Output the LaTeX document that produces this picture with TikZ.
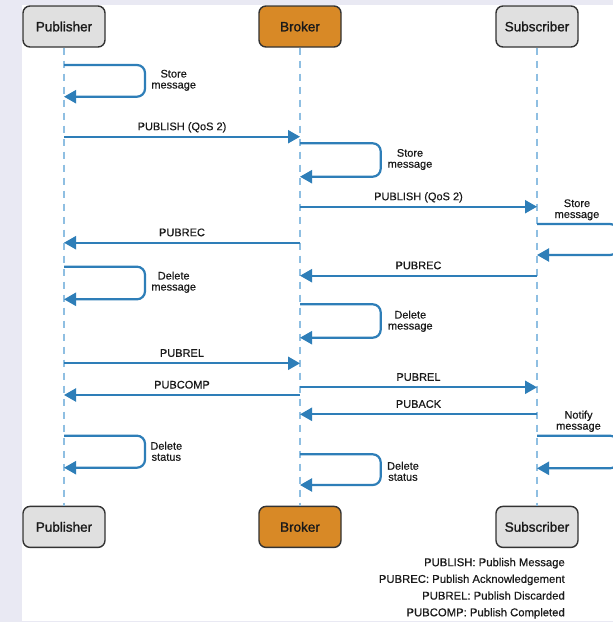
\documentclass[tikz,border=0pt]{standalone}
\usepackage{fontspec}
\setmainfont{Liberation Sans}
\newfontfamily\boxfont[FakeBold=1.2]{Liberation Sans}
\newfontfamily\lblfont[FakeBold=0.4]{Liberation Sans}
\usetikzlibrary{arrows.meta,positioning}
\definecolor{qsblue}{HTML}{2E7EB8}
\definecolor{qslife}{HTML}{8FBFE2}
\definecolor{qsgray}{HTML}{E0E0E0}
\definecolor{qsorange}{HTML}{D88926}
\definecolor{qsedge}{HTML}{333333}
\definecolor{qstext}{HTML}{1A1A1A}
\definecolor{qsback}{HTML}{E9E9F3}

\begin{document}
\begin{tikzpicture}[x=1pt,y=-1pt,
      actor/.style={draw=qsedge,line width=1.4pt,rounded corners=7pt,fill=qsgray,
        minimum width=82pt,minimum height=41pt,text=qstext,font=\boxfont\fontsize{13.5}{14}\selectfont},
      life/.style={qslife,line width=2.2pt,dash pattern=on 7pt off 6pt},
      msg/.style={-{Triangle[length=12pt,width=13pt]},draw=qsblue,line width=2.2pt},
      lbl/.style={midway,anchor=base,yshift=6.5pt,text=qstext,font=\lblfont\fontsize{11}{11}\selectfont},
      note/.style={align=center,text=qstext,inner sep=0pt,font=\lblfont\fontsize{11}{11}\selectfont}]
    \useasboundingbox (0,0) rectangle (613,622);
    \fill[qsback] (0,0) rectangle (613,622);
    \fill[white] (22,5) rectangle (613,620.7);

    % participants
    \node[actor] (pubtop) at (64,26.5) {Publisher};
    \node[actor,fill=qsorange] (brktop) at (300,26.5) {Broker};
    \node[actor] (subtop) at (537,26.5) {Subscriber};
    \node[actor,below=458pt of pubtop] (pubbot) {Publisher};
    \node[actor,fill=qsorange,below=458pt of brktop] (brkbot) {Broker};
    \node[actor,below=458pt of subtop] (subbot) {Subscriber};

    % lifelines
    \draw[life] (pubtop.south) -- (pubbot.north);
    \draw[life] (brktop.south) -- (brkbot.north);
    \draw[life] (subtop.south) -- (subbot.north);

    % publisher stores the message
    \draw[msg,rounded corners=8pt] (pubtop |- 0,65) -| ++(81,31.7) -- (pubtop |- 0,96.7);
    \node[note] (storepub) at (173.7,80.3) {Store\\message};

    \draw[msg] (pubtop |- 0,136.7) -- node[lbl] {PUBLISH (QoS 2)} (brktop |- 0,136.7);

    \draw[msg,rounded corners=8pt] (brktop |- 0,143.3) -| ++(80.7,33.4) -- (brktop |- 0,176.7);
    \node[note] (storebrk) at (410,159.5) {Store\\message};

    \draw[msg] (brktop |- 0,206.7) -- node[lbl] {PUBLISH (QoS 2)} (subtop |- 0,206.7);

    \draw[msg,rounded corners=8pt] (subtop |- 0,224) -| ++(81,31) -- (subtop |- 0,255);
    \node[note] (storesub) at (577,209.8) {Store\\message};

    \draw[msg] (brktop |- 0,242.7) -- node[lbl] {PUBREC} (pubtop |- 0,242.7);
    \draw[msg] (subtop |- 0,275.7) -- node[lbl] {PUBREC} (brktop |- 0,275.7);

    \draw[msg,rounded corners=8pt] (pubtop |- 0,266.7) -| ++(81,32.6) -- (pubtop |- 0,299.3);
    \node[note] (delpub) at (173.7,282.2) {Delete\\message};

    \draw[msg,rounded corners=8pt] (brktop |- 0,304.3) -| ++(80.7,33.4) -- (brktop |- 0,337.7);
    \node[note] (delbrk) at (410.3,321.2) {Delete\\message};

    \draw[msg] (pubtop |- 0,363.3) -- node[lbl] {PUBREL} (brktop |- 0,363.3);
    \draw[msg] (brktop |- 0,395) -- node[lbl] {PUBCOMP} (pubtop |- 0,395);
    \draw[msg] (brktop |- 0,387.3) -- node[lbl] {PUBREL} (subtop |- 0,387.3);
    \draw[msg] (subtop |- 0,414.3) -- node[lbl] {PUBACK} (brktop |- 0,414.3);

    \draw[msg,rounded corners=8pt] (subtop |- 0,435.7) -| ++(81,32.6) -- (subtop |- 0,468.3);
    \node[note] (notifysub) at (578.5,421.3) {Notify\\message};

    % status clean-up
    \draw[msg,rounded corners=8pt] (pubtop |- 0,435.7) -| ++(81,32) -- (pubtop |- 0,467.7);
    \node[note] (statpub) at (166.3,451.3) {Delete\\status};
    \draw[msg,rounded corners=8pt] (brktop |- 0,454.3) -| ++(80.7,30.7) -- (brktop |- 0,485);
    \node[note] (statbrk) at (403,471.3) {Delete\\status};

    % legend
    \node[anchor=east,align=right,inner sep=0pt,text=qstext,
      font=\lblfont\fontsize{11.3}{16.7}\selectfont] (legend) at (565,588.3)
      {PUBLISH: Publish Message\\PUBREC: Publish Acknowledgement\\
       PUBREL: Publish Discarded\\PUBCOMP: Publish Completed};
  \end{tikzpicture}
\end{document}
